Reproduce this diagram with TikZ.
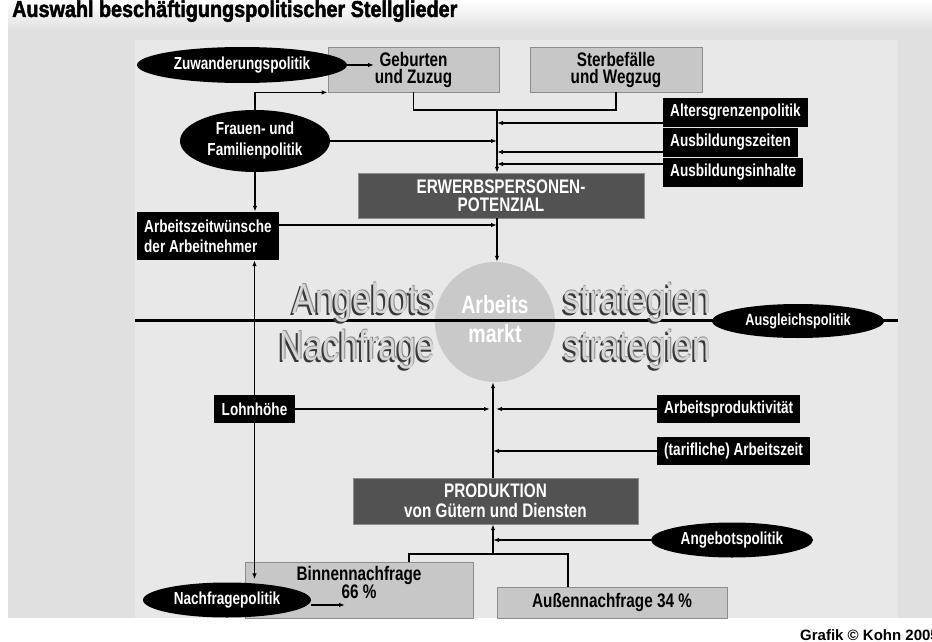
\documentclass[tikz,border=0pt]{standalone}
\usepackage{fontspec}
\setmainfont{Liberation Sans}
\newfontfamily\schmal{Liberation Sans}[FakeStretch=0.78]
\newfontfamily\eng{Liberation Sans}[FakeStretch=0.8]
\newfontfamily\titelfont{Liberation Sans}[FakeStretch=0.86,FakeBold=2]
\usepackage{tikz}
\usetikzlibrary{calc,shapes.geometric,arrows.meta}

\begin{document}
\begin{tikzpicture}[x=1pt,y=-1pt,
    pfeil/.style={line width=1.2pt,-{Latex[length=6pt,width=4.5pt]}},
    linie/.style={line width=1.2pt},
    schwarzbox/.style={fill=black,text=white,font=\schmal\bfseries\fontsize{17.4}{20}\selectfont,align=left,inner xsep=7pt,inner ysep=0pt},
    politik/.style={ellipse,fill=black,text=white,font=\schmal\bfseries\fontsize{17.4}{21}\selectfont,align=center,inner sep=0pt},
    graubox/.style={fill=black!22,draw=black!45,line width=0.8pt,font=\schmal\bfseries\fontsize{19.6}{17}\selectfont,align=center,inner sep=0pt},
    dunkelbox/.style={fill=black!68,draw=black!45,text=white,font=\schmal\bfseries\fontsize{19.6}{18}\selectfont,align=center,inner sep=0pt},
    strategie/.style={font=\eng\fontsize{42}{42}\selectfont,inner sep=0pt}]
      \useasboundingbox (0,0) rectangle (932,642);
      \fill[white] (0,0) rectangle (932,642);
      \shade[top color=white,bottom color=black!12] (8,0) rectangle (932,30);
      \fill[black!12] (8,30) rectangle (932,618);
      \fill[black!9] (135,40) rectangle (898,618);

      \node[anchor=base west,inner sep=0pt,font=\titelfont\bfseries\fontsize{23}{24}\selectfont] (titel) at (12,17) {Auswahl beschäftigungspolitischer Stellglieder};

      \coordinate (J) at (497,110);
      \coordinate (K) at (493,554);
      \coordinate (gebT) at (374,65);
      \coordinate (binnenT) at (345,605);
      \coordinate (B1) at (409,554);
      \coordinate (B2) at (568,554);

      % obere Haelfte
      \node[graubox,minimum width=171pt,minimum height=45pt] (geb) at (413.5,69.5) {Geburten\\und Zuzug};
      \node[graubox,minimum width=172pt,minimum height=45pt] (sterb) at (616,69.5) {Sterbefälle\\und Wegzug};
      \node[politik,minimum width=210pt,minimum height=36pt] (zuw) at (242,65) {Zuwanderungspolitik};
      \node[politik,minimum width=150pt,minimum height=62pt] (frauen) at (255,141) {Frauen- und\\Familienpolitik};
      \node[schwarzbox,anchor=west,minimum height=29pt] (alt) at (663,112.5) {Altersgrenzenpolitik};
      \node[schwarzbox,anchor=west,minimum height=29pt] (azeit) at (663,142.5) {Ausbildungszeiten};
      \node[schwarzbox,anchor=west,minimum height=29pt] (ainh) at (663,172.5) {Ausbildungsinhalte};
      \node[dunkelbox,minimum width=286pt,minimum height=45pt] (erwerb) at (501,195.5) {ERWERBSPERSONEN-\\POTENZIAL};
      \node[schwarzbox,anchor=west,minimum height=48pt] (azw) at (137,236) {Arbeitszeitwünsche\\der Arbeitnehmer};

      % Arbeitsmarkt
      \node[circle,fill=black!21,minimum size=120pt,inner sep=0pt] (markt) at (495,322) {};
      \coordinate (links) at (135,320);
      \coordinate (rechts) at (898,320);
      \draw[line width=3pt] (links) -- (rechts);
      \node[anchor=base,inner sep=0pt,text=white,font=\schmal\bfseries\fontsize{25}{25}\selectfont] (arbeitsT) at (495,313) {Arbeits};
      \node[anchor=base,inner sep=0pt,text=white,font=\schmal\bfseries\fontsize{25}{25}\selectfont] (marktT) at (495,342) {markt};
      \foreach \wort/\x/\y/\a in {Angebots/435/313/base east,Nachfrage/435/360/base east,strategien/563/313/base west,strategien/563/360/base west}{
        \node[strategie,anchor=\a,text=black!78] (s-\x-\y) at (\x-2,\y+2) {\wort};
        \node[strategie,anchor=\a,text=black!45] (t-\x-\y) at (\x+0.7,\y-0.7) {\wort};
        \node[strategie,anchor=\a,text=black!16] (w-\x-\y) at (\x,\y) {\wort};
      }
      \node[politik,minimum width=172pt,minimum height=34pt,font=\schmal\bfseries\fontsize{16.3}{18}\selectfont] (ausgl) at (798,321) {Ausgleichspolitik};

      % untere Haelfte
      \node[schwarzbox,minimum height=28pt,inner xsep=8pt] (lohn) at (254.5,409) {Lohnhöhe};
      \node[schwarzbox,anchor=west,minimum height=28pt] (aprod) at (657,409) {Arbeitsproduktivität};
      \node[schwarzbox,anchor=west,minimum height=28pt] (tarif) at (657,451) {(tarifliche) Arbeitszeit};
      \node[dunkelbox,minimum width=285pt,minimum height=46pt,font=\schmal\bfseries\fontsize{19.6}{20}\selectfont] (prod) at (495.5,501) {PRODUKTION\\von Gütern und Diensten};
      \node[politik,minimum width=162pt,minimum height=35pt] (angeb) at (732,540) {Angebotspolitik};
      \node[graubox,minimum width=228pt,minimum height=56pt] (binnen) at (359,590) {};
      \node[anchor=north,inner sep=0pt,align=center,font=\schmal\bfseries\fontsize{19.6}{18}\selectfont] (binnenText) at (359,566) {Binnennachfrage\\66 \%};
      \node[graubox,minimum width=230pt,minimum height=31pt] (aussen) at (612,602.5) {Außennachfrage 34 \%};
      \node[politik,minimum width=168pt,minimum height=35pt] (nachfr) at (227,600) {Nachfragepolitik};

      \node[anchor=base west,inner sep=0pt,font=\bfseries\fontsize{15}{16}\selectfont] (quelle) at (800,640) {Grafik © Kohn 2005};

      % Verbindungen
      \draw[pfeil] (zuw.east) -- (gebT);
      \draw[pfeil] (frauen.north) |- (geb.south west);
      \draw[linie] (geb.south) |- (J) -| (sterb.south);
      \draw[pfeil] (J) -- (J |- erwerb.north);
      \draw[pfeil] ([yshift=-10.5pt]alt.west) -- ([yshift=-10.5pt]alt.west -| J);
      \draw[pfeil] ([yshift=-9.5pt]azeit.west) -- ([yshift=-9.5pt]azeit.west -| J);
      \draw[pfeil] ([yshift=8.5pt]ainh.west) -- ([yshift=8.5pt]ainh.west -| J);
      \draw[pfeil] (frauen.east) -- (frauen.east -| J);
      \draw[pfeil] (frauen.south) -- (frauen.south |- azw.north);
      \draw[pfeil] ([yshift=11pt]azw.east) -- ([yshift=11pt]azw.east -| J);
      \draw[pfeil] (J |- erwerb.south) -- (J |- markt.north);
      \draw[pfeil] (K |- prod.north) -- (K |- markt.south);
      \draw[pfeil] (lohn.east) -- ([xshift=-3pt]lohn.east -| K);
      \draw[pfeil] (aprod.west) -- ([xshift=3pt]aprod.west -| K);
      \draw[pfeil] (tarif.west) -- (tarif.west -| K);
      \draw[pfeil] (angeb.west) -- (angeb.west -| K);
      \draw[pfeil] (K) -- (K |- prod.south);
      \draw[linie] (B1 |- binnen.north) -- (B1) -- (B2) -- (B2 |- aussen.north);
      \draw[pfeil] (lohn.north) -- (lohn.north |- azw.south);
      \draw[pfeil] (lohn.south) -- ([yshift=3pt]lohn.south |- nachfr.north);
      \draw[pfeil] (nachfr.east |- binnenT) -- (binnenT);
\end{tikzpicture}
\end{document}
